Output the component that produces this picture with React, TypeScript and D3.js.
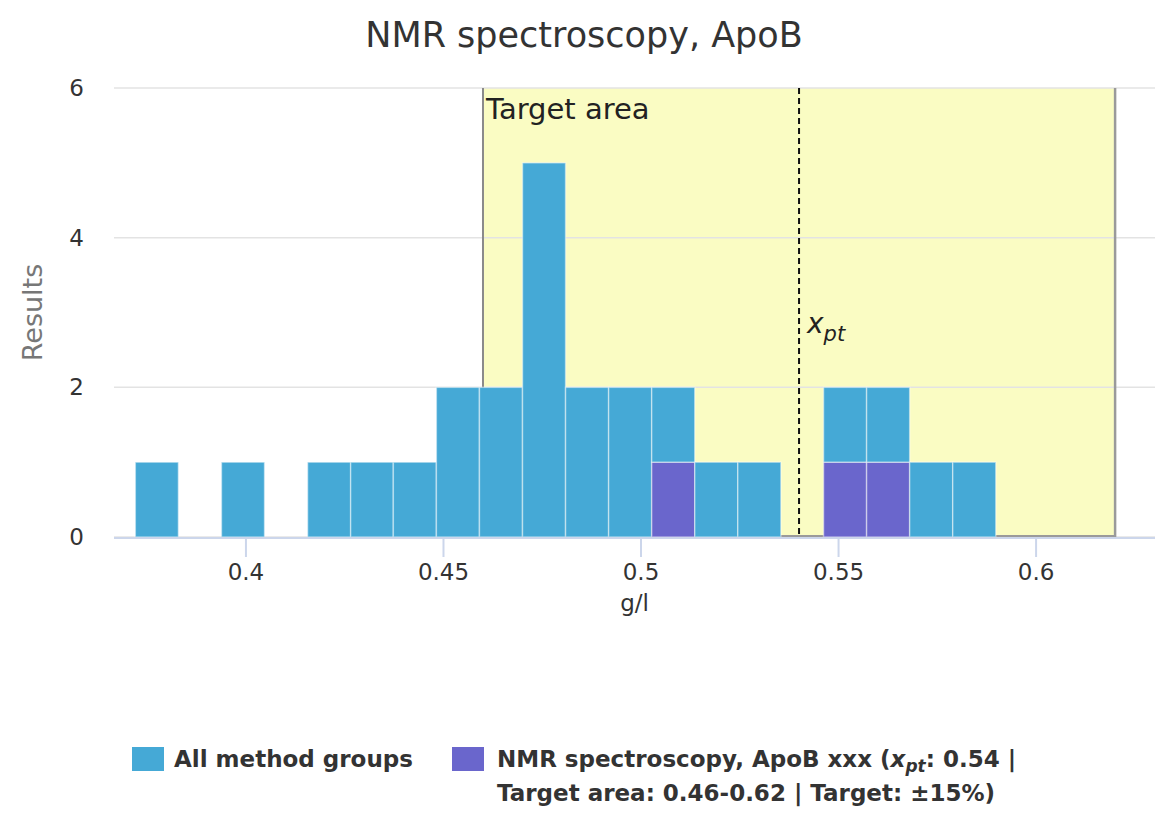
import * as d3 from "d3";

// histogram bins (g/l) and counts
const binEdges = [
  0.372, 0.3829, 0.3938, 0.4047, 0.4156, 0.4265, 0.4373, 0.4482, 0.4591, 0.47,
  0.4809, 0.4918, 0.5027, 0.5136, 0.5245, 0.5354, 0.5462, 0.5571, 0.568, 0.5789, 0.5898,
];
const groupCounts = [0, 0, 0, 0, 0, 0, 0, 0, 0, 0, 0, 0, 1, 0, 0, 0, 1, 1, 0, 0];
const allCounts = [1, 0, 1, 0, 1, 1, 1, 2, 2, 5, 2, 2, 1, 1, 1, 0, 1, 1, 1, 1];

const xTicks = [0.4, 0.45, 0.5, 0.55, 0.6];
const yTicks = [0, 2, 4, 6];
const targetArea = [0.46, 0.62];
const xpt = 0.54;

const W = 1167;
const H = 814;
const plot = { left: 114, right: 1155, top: 88, bottom: 537 };

const BLUE = "#45a9d6";
const PURPLE = "#6a66cc";
const FONT = "DejaVu Sans, Verdana, sans-serif";

export default function App() {
  const x = d3.scaleLinear().domain([0.3666, 0.6301]).range([plot.left, plot.right]);
  const y = d3.scaleLinear().domain([0, 6]).range([plot.bottom, plot.top]);

  // stack: selected group at bottom, rest on top
  const bars = allCounts.map((c, i) => ({
    x0: binEdges[i],
    x1: binEdges[i + 1],
    g: groupCounts[i],
    a: c,
  }));

  const tx0 = x(targetArea[0]);
  const tx1 = x(targetArea[1]);

  return (
    <svg
      width={W}
      height={H}
      style={{ position: "absolute", left: 0, top: 0, background: "#fff", fontFamily: FONT }}
    >
      <text x={584} y={47} textAnchor="middle" fontSize={35} fill="#333">
        NMR spectroscopy, ApoB
      </text>

      {/* target area */}
      <rect x={tx0} y={plot.top} width={tx1 - tx0} height={plot.bottom - plot.top} fill="#fafcc3" />

      {/* grid */}
      {yTicks.map((t) => (
        <line key={t} x1={plot.left} x2={plot.right} y1={y(t)} y2={y(t)} stroke="#e3e3e3" strokeWidth={1.5} />
      ))}

      <line x1={tx0} x2={tx0} y1={plot.top} y2={plot.bottom} stroke="#8a8a8a" strokeWidth={2} />
      <line x1={tx1} x2={tx1} y1={plot.top} y2={plot.bottom} stroke="#9a9a9a" strokeWidth={2.5} />
      <line x1={tx0} x2={tx1} y1={plot.bottom - 1} y2={plot.bottom - 1} stroke="#9a9a9a" strokeWidth={2} />
      <text x={tx0 + 3} y={119} fontSize={29} fill="#222">Target area</text>

      {/* bars */}
      {bars.map((b, i) => (
        <g key={i}>
          {b.g > 0 && (
            <rect
              x={x(b.x0)}
              y={y(b.g)}
              width={x(b.x1) - x(b.x0)}
              height={y(0) - y(b.g)}
              fill={PURPLE}
              stroke="#fff"
              strokeOpacity={0.45}
              strokeWidth={1.5}
            />
          )}
          {b.a > 0 && (
            <rect
              x={x(b.x0)}
              y={y(b.g + b.a)}
              width={x(b.x1) - x(b.x0)}
              height={y(b.g) - y(b.g + b.a)}
              fill={BLUE}
              stroke="#fff"
              strokeOpacity={0.45}
              strokeWidth={1.5}
            />
          )}
        </g>
      ))}

      {/* xpt line */}
      <line
        x1={x(xpt)}
        x2={x(xpt)}
        y1={plot.top}
        y2={plot.bottom}
        stroke="#111"
        strokeWidth={2}
        strokeDasharray="6,4"
      />
      <text x={x(xpt) + 8} y={333} fontSize={28} fontStyle="italic" fill="#222">
        x<tspan fontSize={21} dy={8}>pt</tspan>
      </text>

      {/* x axis */}
      <line x1={plot.left} x2={plot.right} y1={plot.bottom + 1} y2={plot.bottom + 1} stroke="#ccd6eb" strokeWidth={2} />
      {xTicks.map((t) => (
        <g key={t}>
          <line x1={x(t)} x2={x(t)} y1={plot.bottom + 1} y2={plot.bottom + 20} stroke="#ccd6eb" strokeWidth={2} />
          <text x={x(t)} y={580} textAnchor="middle" fontSize={23} fill="#333">
            {d3.format("")(t)}
          </text>
        </g>
      ))}
      <text x={(plot.left + plot.right) / 2} y={611} textAnchor="middle" fontSize={23} fill="#333">
        g/l
      </text>

      {/* y axis */}
      {yTicks.map((t) => (
        <text key={t} x={84} y={y(t) + 8} textAnchor="end" fontSize={23} fill="#333">
          {t}
        </text>
      ))}
      <text
        transform={`translate(42,${(plot.top + plot.bottom) / 2}) rotate(-90)`}
        textAnchor="middle"
        fontSize={27}
        fill="#777"
      >
        Results
      </text>

      {/* legend */}
      <rect x={132} y={747} width={32} height={24} fill={BLUE} />
      <text x={174} y={767} fontSize={23} fontWeight="bold" fill="#333">
        All method groups
      </text>
      <rect x={452} y={747} width={32} height={24} fill={PURPLE} />
      <text x={497} y={767} fontSize={23} fontWeight="bold" fill="#333">
        NMR spectroscopy, ApoB xxx (<tspan fontStyle="italic">x</tspan>
        <tspan fontStyle="italic" fontSize={17} dy={5}>pt</tspan>
        <tspan dy={-5}>: 0.54 |</tspan>
      </text>
      <text x={497} y={801} fontSize={23} fontWeight="bold" fill="#333">
        Target area: 0.46-0.62 | Target: ±15%)
      </text>
    </svg>
  );
}
